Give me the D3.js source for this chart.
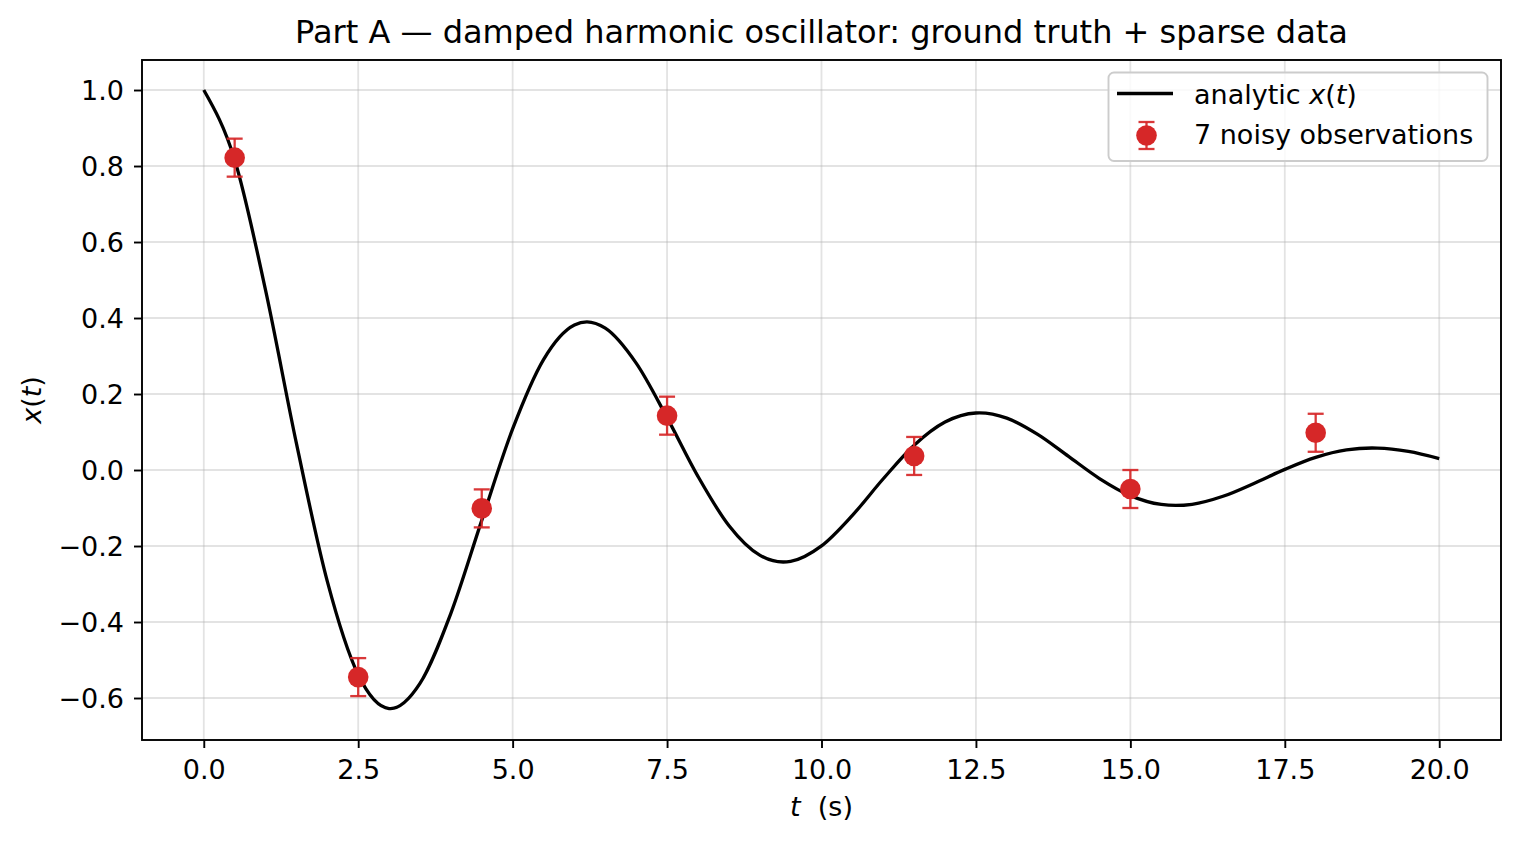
<!DOCTYPE html>
<html lang="en">
<head>
  <meta charset="UTF-8">
  <script src="https://d3js.org/d3.v7.min.js"></script>
  <title>Part A — damped harmonic oscillator</title>
  <style>
    body {
      margin: 0;
      background: white;
      font-family: "DejaVu Sans", sans-serif;
      overflow: hidden;
    }
    text { fill: #000; }
    .pre { white-space: pre; }
  </style>
</head>
<body>
<script>
  // analytic curve (t in s, x(t))
  const curveT = [0, 0.5, 1, 1.5, 2, 2.5, 3, 3.025, 3.5, 4, 4.5, 5, 5.5, 6, 6.203, 6.5, 7, 7.5, 8, 8.5, 9,
    9.38, 9.5, 10, 10.5, 11, 11.5, 12, 12.5, 12.558, 13, 13.5, 14, 14.5, 15, 15.5, 15.735, 16, 16.5, 17,
    17.5, 18, 18.5, 18.913, 19, 19.5, 20];
  const curveX = [1.0, 0.8167, 0.4732, 0.0700, -0.2930, -0.5388, -0.6278, -0.6280, -0.5617, -0.3771, -0.1325,
    0.1082, 0.2907, 0.3818, 0.3899, 0.3733, 0.2812, 0.1379, -0.0167, -0.1460, -0.2241, -0.2421, -0.2404,
    -0.1997, -0.1193, -0.0230, 0.0652, 0.1262, 0.1501, 0.1503, 0.1365, 0.0937, 0.0357, -0.0224, -0.0674,
    -0.0907, -0.0933, -0.0902, -0.0692, -0.0354, 0.0017, 0.0333, 0.0529, 0.0579, 0.0577, 0.0488, 0.0300];

  // sparse noisy observations
  const obsT = [0.5, 2.5, 4.5, 7.5, 11.5, 15.0, 18.0];
  const obsX = [0.822, -0.545, -0.101, 0.143, 0.037, -0.050, 0.098];
  const obsErr = [0.05, 0.05, 0.05, 0.05, 0.05, 0.05, 0.05];

  const xTicks = [0, 2.5, 5, 7.5, 10, 12.5, 15, 17.5, 20];
  const yTicks = [-0.6, -0.4, -0.2, 0.0, 0.2, 0.4, 0.6, 0.8, 1.0];

  const width = 1519, height = 843;
  const pLeft = 142, pRight = 1501, pTop = 60, pBottom = 740;
  const red = "#d62728";
  const tickFont = 27;

  const svg = d3.select("body").append("svg")
    .attr("width", width)
    .attr("height", height);

  const x = d3.scaleLinear().domain([-1, 21]).range([pLeft, pRight]);
  const y = d3.scaleLinear().domain([-0.7105, 1.079]).range([pBottom, pTop]);

  // grid
  const grid = svg.append("g")
    .attr("stroke", "#b0b0b0")
    .attr("stroke-opacity", 0.35)
    .attr("stroke-width", 1.8);
  grid.selectAll(".gx").data(xTicks).enter().append("line")
    .attr("x1", d => x(d)).attr("x2", d => x(d))
    .attr("y1", pTop).attr("y2", pBottom);
  grid.selectAll(".gy").data(yTicks).enter().append("line")
    .attr("x1", pLeft).attr("x2", pRight)
    .attr("y1", d => y(d)).attr("y2", d => y(d));

  // analytic curve
  const pts = curveT.map((t, i) => [t, curveX[i]]);
  svg.append("path")
    .datum(pts)
    .attr("fill", "none")
    .attr("stroke", "#000")
    .attr("stroke-width", 3.3)
    .attr("stroke-linejoin", "round")
    .attr("d", d3.line().x(d => x(d[0])).y(d => y(d[1])).curve(d3.curveMonotoneX));

  // error bars + markers
  const obs = obsT.map((t, i) => ({ t: t, v: obsX[i], e: obsErr[i] }));
  const eb = svg.append("g")
    .attr("stroke", red)
    .attr("stroke-opacity", 0.92)
    .attr("stroke-width", 2.3);
  eb.selectAll(".bar").data(obs).enter().append("line")
    .attr("x1", d => x(d.t)).attr("x2", d => x(d.t))
    .attr("y1", d => y(d.v - d.e)).attr("y2", d => y(d.v + d.e));
  [-1, 1].forEach(s => {
    eb.selectAll(".cap" + s).data(obs).enter().append("line")
      .attr("x1", d => x(d.t) - 8).attr("x2", d => x(d.t) + 8)
      .attr("y1", d => y(d.v + s * d.e)).attr("y2", d => y(d.v + s * d.e));
  });
  svg.selectAll(".dot").data(obs).enter().append("circle")
    .attr("cx", d => x(d.t))
    .attr("cy", d => y(d.v))
    .attr("r", 10.3)
    .attr("fill", red);

  // axes
  const xAxis = svg.append("g")
    .attr("transform", `translate(0,${pBottom})`)
    .call(d3.axisBottom(x).tickValues(xTicks).tickFormat(d3.format(".1f")).tickSize(8).tickPadding(8));
  const yAxis = svg.append("g")
    .attr("transform", `translate(${pLeft},0)`)
    .call(d3.axisLeft(y).tickValues(yTicks).tickFormat(d => d3.format(".1f")(d).replace("-", "\u2212")).tickSize(8).tickPadding(10));
  [xAxis, yAxis].forEach(a => {
    a.select(".domain").remove();
    a.selectAll(".tick line").attr("stroke", "#000").attr("stroke-width", 1.9);
    a.selectAll(".tick text")
      .attr("font-family", "DejaVu Sans")
      .attr("font-size", tickFont)
      .attr("fill", "#000");
  });
  xAxis.selectAll(".tick text").attr("dy", null).attr("y", 39);
  yAxis.selectAll(".tick text").attr("dy", null).attr("y", 9.8);

  // spines
  svg.append("rect")
    .attr("x", pLeft).attr("y", pTop)
    .attr("width", pRight - pLeft).attr("height", pBottom - pTop)
    .attr("fill", "none")
    .attr("stroke", "#000")
    .attr("stroke-width", 1.9);

  // title and axis labels
  svg.append("text")
    .attr("x", (pLeft + pRight) / 2).attr("y", 43)
    .attr("text-anchor", "middle")
    .attr("font-size", 32)
    .text("Part A \u2014 damped harmonic oscillator: ground truth + sparse data");

  const xl = svg.append("text")
    .attr("class", "pre")
    .attr("x", (pLeft + pRight) / 2).attr("y", 816)
    .attr("text-anchor", "middle")
    .attr("font-size", tickFont);
  xl.append("tspan").attr("font-style", "italic").text("t");
  xl.append("tspan").text("  (s)");

  const yl = svg.append("text")
    .attr("transform", `translate(41,${(pTop + pBottom) / 2}) rotate(-90)`)
    .attr("text-anchor", "middle")
    .attr("font-size", tickFont);
  yl.append("tspan").attr("font-style", "italic").text("x");
  yl.append("tspan").text("(");
  yl.append("tspan").attr("font-style", "italic").text("t");
  yl.append("tspan").text(")");

  // legend
  const lg = svg.append("g");
  lg.append("rect")
    .attr("x", 1108.5).attr("y", 72.5)
    .attr("width", 379).attr("height", 88.5)
    .attr("rx", 5.5)
    .attr("fill", "white").attr("fill-opacity", 0.8)
    .attr("stroke", "#cccccc").attr("stroke-width", 1.9);
  lg.append("line")
    .attr("x1", 1117).attr("x2", 1173)
    .attr("y1", 93.5).attr("y2", 93.5)
    .attr("stroke", "#000").attr("stroke-width", 3.3);
  const l1 = lg.append("text").attr("x", 1194).attr("y", 103.5).attr("font-size", tickFont);
  l1.append("tspan").text("analytic ");
  l1.append("tspan").attr("font-style", "italic").text("x");
  l1.append("tspan").text("(");
  l1.append("tspan").attr("font-style", "italic").text("t");
  l1.append("tspan").text(")");

  const mx = 1146.5, my = 135.5;
  const lgEb = lg.append("g").attr("stroke", red).attr("stroke-opacity", 0.92).attr("stroke-width", 2.3);
  lgEb.append("line").attr("x1", mx).attr("x2", mx).attr("y1", my - 13.5).attr("y2", my + 13.5);
  lgEb.append("line").attr("x1", mx - 8).attr("x2", mx + 8).attr("y1", my - 13.5).attr("y2", my - 13.5);
  lgEb.append("line").attr("x1", mx - 8).attr("x2", mx + 8).attr("y1", my + 13.5).attr("y2", my + 13.5);
  lg.append("circle").attr("cx", mx).attr("cy", my).attr("r", 10.3).attr("fill", red);
  lg.append("text").attr("x", 1194).attr("y", 143.5).attr("font-size", tickFont)
    .text("7 noisy observations");
</script>
</body>
</html>
